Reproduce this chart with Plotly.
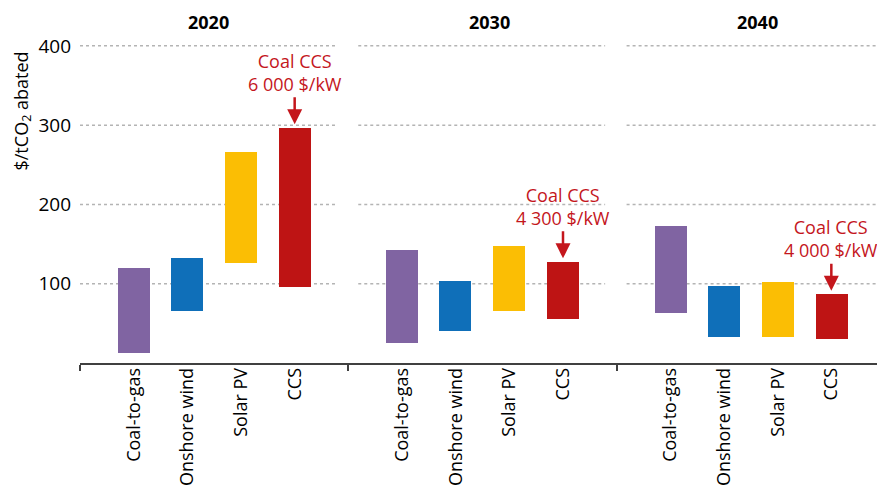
import plotly.graph_objects as go
from plotly.subplots import make_subplots

years = ['2020', '2030', '2040']
techs = ['Coal-to-gas', 'Onshore wind', 'Solar PV', 'CCS']
tech_colors = ['#8064A2', '#0F6FB9', '#FBBE04', '#BE1414']

# low / high of the cost range ($/tCO2 abated)
low_2020 = [13, 66, 126, 96]
high_2020 = [120, 133, 266, 297]
low_2030 = [25, 40, 66, 55]
high_2030 = [142, 104, 147, 128]
low_2040 = [63, 33, 33, 30]
high_2040 = [173, 97, 102, 87]

# capital cost of coal CCS noted over the CCS bar
ccs_capex = ['6 000 $/kW', '4 300 $/kW', '4 000 $/kW']

lows = [low_2020, low_2030, low_2040]
highs = [high_2020, high_2030, high_2040]

FONT = 'Open Sans'
RED = '#C4161C'

fig = make_subplots(rows=1, cols=3, shared_yaxes=True, horizontal_spacing=0)

xpos = [1, 2, 3, 4]
for i in range(3):
    lo = lows[i]
    hi = highs[i]
    fig.add_trace(go.Bar(x=xpos, y=[h - l for h, l in zip(hi, lo)], base=lo,
                         width=0.6, marker_color=tech_colors, marker_line_width=0,
                         showlegend=False, name=years[i]),
                  row=1, col=i + 1)

    # dotted gridlines, a bit shorter than each panel
    xr = 'x domain' if i == 0 else 'x%d domain' % (i + 1)
    x0 = 0.0 if i == 0 else 0.037
    x1 = 1.0 if i == 2 else 0.957
    for g in [100, 200, 300, 400]:
        fig.add_shape(type='line', xref=xr, yref='y', x0=x0, x1=x1, y0=g, y1=g,
                      line=dict(color='#B4B4B4', width=1.5, dash='dot'), layer='below')

    # panel title
    fig.add_annotation(text='<b>%s</b>' % years[i], xref=xr, yref='paper',
                       x=[0.48, 0.525, 0.525][i], y=1, yanchor='middle', yshift=8,
                       showarrow=False, font=dict(size=18, color='black', family=FONT))

    # coal CCS note with arrow
    xa = 'x' if i == 0 else 'x%d' % (i + 1)
    fig.add_annotation(text='Coal CCS<br>' + ccs_capex[i], xref=xa, yref='y',
                       x=4, y=hi[3] + 4, ax=0, ay=-52, showarrow=True,
                       arrowhead=2, arrowsize=1.2, arrowwidth=2.5, arrowcolor=RED,
                       standoff=0, font=dict(size=18, color=RED, family=FONT))

fig.update_xaxes(range=[0, 5], tickmode='array', tickvals=xpos, ticktext=techs,
                 tickangle=-90, ticks='', showline=True, linecolor='#404040', linewidth=1.5,
                 showgrid=False, zeroline=False, automargin=False, ticklabelstandoff=-4,
                 tickfont=dict(size=18, color='black', family=FONT),
                 minor=dict(tickmode='array', tickvals=[0, 5], ticks='outside',
                            ticklen=6, tickcolor='#404040', tickwidth=1.5))
fig.update_yaxes(range=[0, 420], tickvals=[100, 200, 300, 400], showgrid=False,
                 zeroline=False, showline=False, ticks='', automargin=False,
                 tickfont=dict(size=19, color='black', family=FONT))
fig.update_yaxes(ticklabelstandoff=8, row=1, col=1)

fig.add_annotation(text='$/tCO<sub>2</sub> abated', xref='paper', yref='paper',
                   x=-0.072, y=0.94, xanchor='center', yanchor='top', textangle=-90,
                   showarrow=False, font=dict(size=18, color='black', family=FONT))

# page body adds an 8px offset, so the figure is 8px smaller than the window
fig.update_layout(width=877, height=482, margin=dict(l=72, r=0, t=22, b=127),
                  plot_bgcolor='white', paper_bgcolor='white', bargap=0,
                  font=dict(family=FONT, color='black'))

fig.write_html('out.html')
